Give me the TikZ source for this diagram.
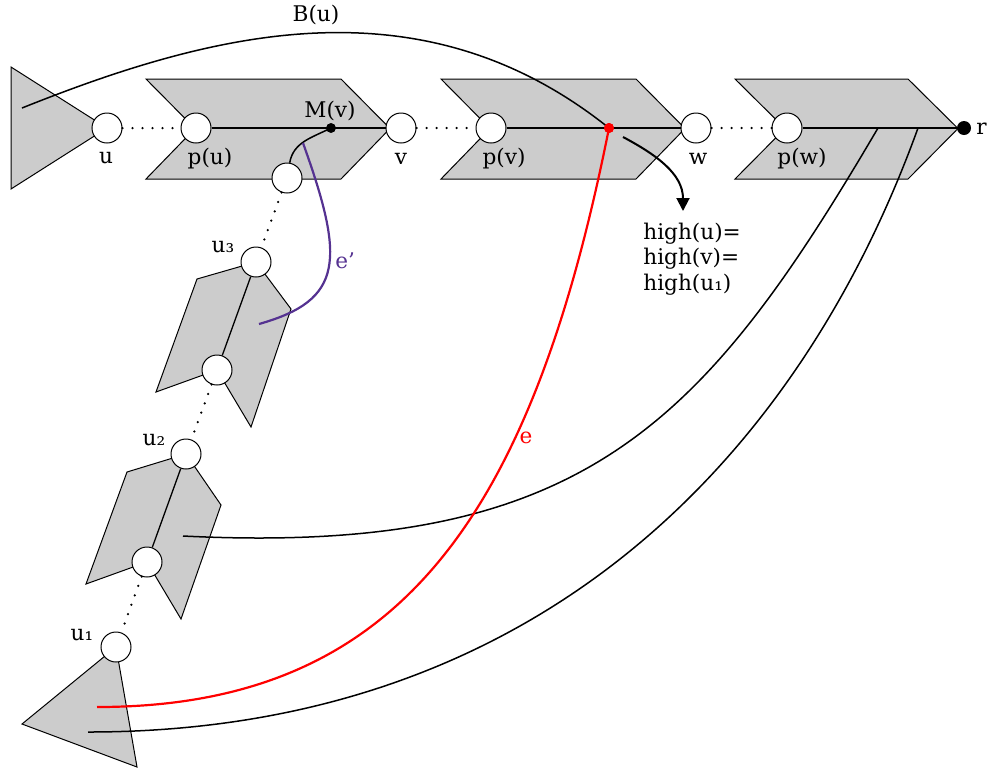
\documentclass[tikz,border=0pt]{standalone}
\usepackage{fontspec}
\setmainfont{DejaVu Serif}
\usetikzlibrary{arrows.meta}
\definecolor{partgray}{gray}{0.8}
\definecolor{eprime}{RGB}{85,50,145}
\begin{document}
\begin{tikzpicture}[x=0.5pt,y=-0.5pt,
  every node/.style={font=\fontsize{10.8}{12.75}\selectfont},
  part/.style={fill=partgray, draw=black, line width=0.5pt, line join=miter},
  vtx/.style={circle, draw=black, fill=white, line width=0.5pt, minimum size=15pt, inner sep=0pt},
  dotline/.style={line width=1.25pt, line cap=round, dash pattern=on 0pt off 5pt},
  spine/.style={line width=0.65pt},
  link/.style={line width=0.75pt},
  lbl/.style={anchor=base, inner sep=0pt},
  bigdot/.style={circle, fill=black, inner sep=0pt, minimum size=#1},
]
\useasboundingbox (0,0) rectangle (989,772);

% shaded parts
\draw[part] (11,67) -- (107,128) -- (11,189) -- cycle;
\draw[part] (146,79) -- (341,79) -- (390,128.5) -- (341,179) -- (146,179) -- (195,128.5) -- cycle;
\draw[part] (441,79) -- (636,79) -- (685,128.5) -- (636,179) -- (441,179) -- (490,128.5) -- cycle;
\draw[part] (735,79) -- (908,79) -- (958,128.5) -- (908,179) -- (735,179) -- (785,128.5) -- cycle;
\draw[part] (197,279) -- (256,262) -- (291,309) -- (251,427) -- (217,370) -- (156,392) -- cycle;
\draw[part] (127,472) -- (186,454) -- (221,505) -- (181,619) -- (147,562) -- (86,584) -- cycle;
\draw[part] (22,724) -- (116,647) -- (137,767) -- cycle;

% vertices
\node[vtx] (u) at (107,128) {};
\node[vtx] (pu) at (196,128) {};
\node[vtx] (v) at (401,128) {};
\node[vtx] (pv) at (491,128) {};
\node[vtx] (w) at (696,128) {};
\node[vtx] (pw) at (787,128) {};
\node[bigdot=7pt] (r) at (964,128) {};
\node[vtx] (c1) at (287,178) {};
\node[vtx] (u3) at (256,262) {};
\node[vtx] (i3) at (217,370) {};
\node[vtx] (u2) at (186,454) {};
\node[vtx] (i2) at (147,562) {};
\node[vtx] (u1) at (116,647) {};
\node[bigdot=4.8pt] (Mv) at (331,128) {};
\node[circle, fill=red, inner sep=0pt, minimum size=5pt] (rd) at (609,128) {};

% spines
\draw[spine] (pu) -- (v);
\draw[spine] (pv) -- (w);
\draw[spine] (pw) -- (r);
\draw[spine] (u3) -- (i3);
\draw[spine] (u2) -- (i2);

% dotted paths
\draw[dotline] (u) -- (pu);
\draw[dotline] (v) -- (pv);
\draw[dotline] (w) -- (pw);
\draw[dotline] (c1) -- (u3);
\draw[dotline] (i3) -- (u2);
\draw[dotline] (i2) -- (u1);

% curve ends
\coordinate (bs) at (22,108);
\coordinate (k1) at (878,128);
\coordinate (k2) at (918,128);
\coordinate (s1) at (183,536);
\coordinate (s2) at (88,732);
\coordinate (re) at (97,707);
\coordinate (ep1) at (303,143);
\coordinate (ep2) at (259,324);
\coordinate (as) at (623,137);
\coordinate (ae) at (683,211);

\draw[link] (bs) .. controls (213.5,31.4) and (421.4,-22) .. (rd.center);
\draw[link] (s1) .. controls (583,556) and (703,426) .. (k1);
\draw[link] (s2) .. controls (538,732) and (799,457) .. (k2);
\draw[link] (c1) to[out=80,in=207] (Mv.center);
\draw[red, line width=1.1pt] (rd.center) .. controls (531,520) and (397,707) .. (re);
\draw[eprime, line width=1.1pt] (ep1) .. controls (345,260) and (344,300) .. (ep2);
\draw[line width=1pt, -{Triangle[length=6.5pt,width=6.5pt]}] (as) to[out=-28,in=90] (ae);

\node[bigdot=4.8pt] at (Mv) {};
\node[circle, fill=red, inner sep=0pt, minimum size=5pt] at (rd) {};

% labels
\node[lbl] at (106,163) {u};
\node[lbl] at (210,164) {p(u)};
\node[lbl] at (330,117) {M(v)};
\node[lbl] at (401,164) {v};
\node[lbl] at (504,164) {p(v)};
\node[lbl] at (698,164) {w};
\node[lbl] at (802,164) {p(w)};
\node[lbl, anchor=base west] at (976,134) {r};
\node[lbl] at (316,21) {B(u)};
\node[lbl, anchor=base west] at (643,239) {high(u)=};
\node[lbl, anchor=base west] at (643,264.5) {high(v)=};
\node[lbl, anchor=base west] at (643,290) {high(u₁)};
\node[lbl] at (223,252) {u₃};
\node[lbl] at (154,445) {u₂};
\node[lbl] at (82,640) {u₁};
\node[lbl, text=red] at (526,443) {e};
\node[lbl, anchor=base west, text=eprime] at (335,268) {e’};
\end{tikzpicture}
\end{document}
